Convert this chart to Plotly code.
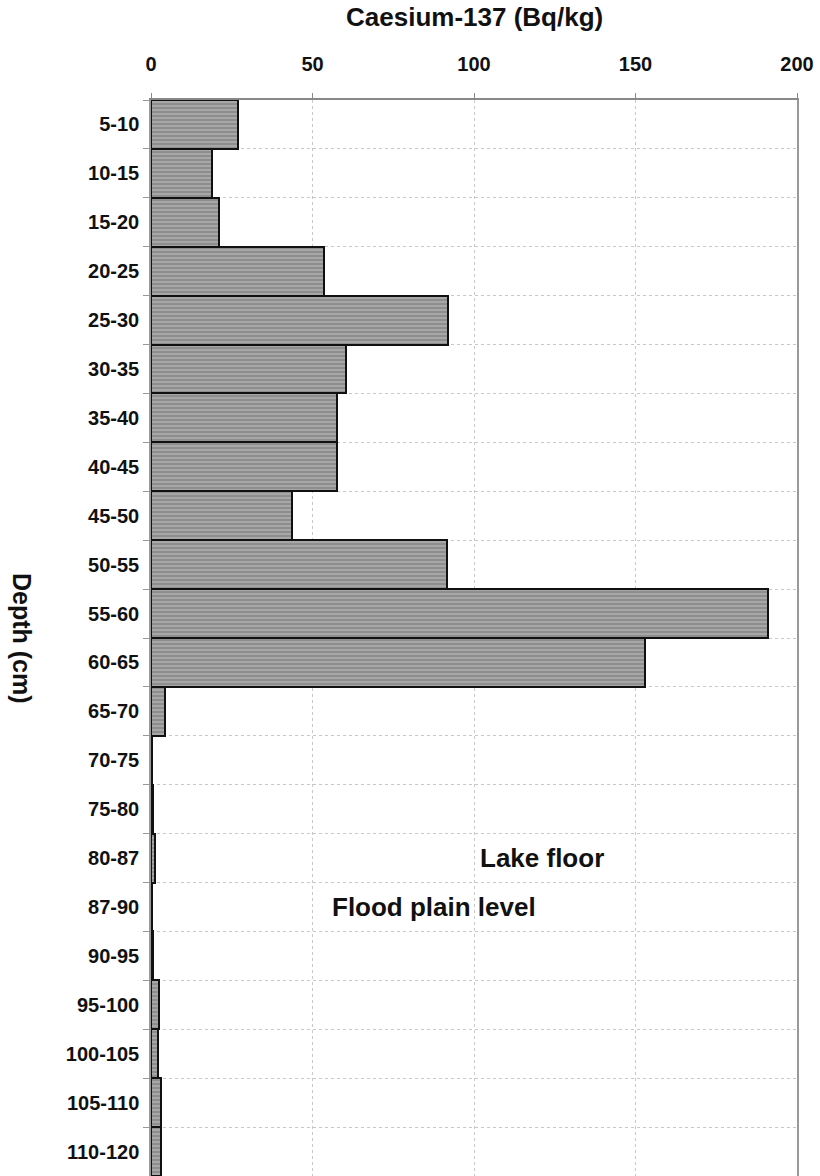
import plotly.graph_objects as go

depths = ["5-10", "10-15", "15-20", "20-25", "25-30", "30-35", "35-40", "40-45",
          "45-50", "50-55", "55-60", "60-65", "65-70", "70-75", "75-80", "80-87",
          "87-90", "90-95", "95-100", "100-105", "105-110", "110-120"]
cs137 = [27, 19, 21, 53.5, 92, 60.5, 57.5, 57.5, 43.5, 91.5, 191, 153, 4.3,
         0.3, 0.5, 1.2, 0.3, 0.5, 2.5, 2.3, 3, 3]
x_ticks = [0, 50, 100, 150, 200]

FONT = "Liberation Sans, Arial, sans-serif"

fig = go.Figure()
fig.add_trace(go.Bar(
    y=depths, x=cs137, orientation="h",
    marker=dict(color="#9a9a9a",
                line=dict(color="#111111", width=2),
                pattern=dict(shape="-", bgcolor="#8e8e8e", fgcolor="#d6d6d6",
                             size=4, solidity=0.35, fillmode="overlay")),
    showlegend=False,
))

fig.update_layout(
    width=820, height=1176,
    margin=dict(l=151, r=23, t=100, b=0),
    paper_bgcolor="white", plot_bgcolor="white",
    bargap=0,
    font=dict(family=FONT, size=15, color="#111111"),
    xaxis=dict(side="top", range=[0, 200], tickvals=x_ticks,
               tickfont=dict(family=FONT, size=20, weight="bold"),
               showgrid=True, gridcolor="#c8c8c8", griddash="dot", gridwidth=1,
               showline=True, linecolor="#888888", linewidth=1.5,
               ticks="outside", ticklen=5, tickcolor="#888888",
               ticklabelstandoff=14,
               zeroline=False, fixedrange=True),
    yaxis=dict(autorange="reversed", type="category", tickson="boundaries",
               tickfont=dict(family=FONT, size=20, weight="bold"),
               showgrid=True, gridcolor="#c8c8c8", griddash="dot", gridwidth=1,
               showline=True, mirror=True, linecolor="#999999", linewidth=1.5,
               ticks="outside", ticklen=6, tickcolor="#999999",
               ticklabelstandoff=6),
)

fig.add_annotation(text="<b>Caesium-137 (Bq/kg)</b>", xref="paper", yref="paper",
                   x=0.50, y=1 + (100 - 17) / 1076, yanchor="middle", showarrow=False,
                   font=dict(family=FONT, size=26))
fig.add_annotation(text="<b>Depth (cm)</b>", textangle=90, xref="paper", yref="paper",
                   x=(22 - 151) / 646, y=1 - (638 - 100) / 1076, xanchor="center",
                   yanchor="middle", showarrow=False,
                   font=dict(family=FONT, size=25))
fig.add_annotation(text="<b>Lake floor</b>", x=121, y="80-87", xref="x", yref="y",
                   showarrow=False, font=dict(family=FONT, size=26))
fig.add_annotation(text="<b>Flood plain level</b>", x=87.5, y="87-90", xref="x", yref="y",
                   showarrow=False, font=dict(family=FONT, size=26))

fig.write_html("out.html")
